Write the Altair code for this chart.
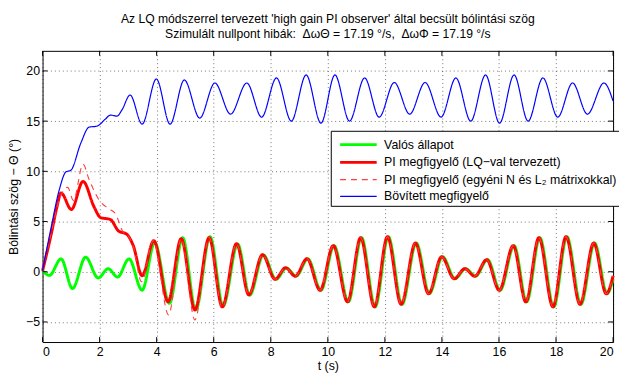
import altair as alt
import pandas as pd

# ---- data (extrema and shape points) ----
t_green = [0.0, 0.24, 0.65, 1.05, 1.51, 1.95, 2.3, 2.63, 3.03, 3.49, 3.93, 4.45, 4.91, 5.37, 5.87,
           6.33, 6.84, 7.26, 7.74, 8.18, 8.55, 8.89, 9.3, 9.76, 10.22, 10.72, 11.18, 11.66, 12.12,
           12.6, 13.1, 13.56, 14.02, 14.46, 14.83, 15.18, 15.6, 16.04, 16.53, 16.97, 17.43, 17.92,
           18.38, 18.87, 19.35, 19.79, 20.0]
v_green = [0.1, -0.36, 1.28, -1.67, 1.45, -0.62, 0.3, -0.53, 1.28, -1.84, 2.9, -3.15, 3.4, -3.8, 3.5,
           -3.4, 2.76, -2.33, 1.67, -0.75, 0.36, -0.43, 1.28, -1.84, 2.6, -3.0, 3.4, -3.5, 3.5,
           -3.25, 2.86, -2.17, 1.5, -0.69, 0.3, -0.43, 1.21, -1.84, 2.6, -3.0, 3.4, -3.5,
           3.5, -3.25, 2.86, -2.17, -0.7]

t_red = [0.0, 0.3, 0.5, 0.65, 1.01, 1.42, 1.8, 2.03, 2.38, 2.66, 2.95, 3.18, 3.49, 3.9, 4.4, 4.86,
         5.34, 5.84, 6.3, 6.8, 7.23, 7.71, 8.15, 8.52, 8.86, 9.27, 9.73, 10.19, 10.69, 11.15, 11.63,
         12.09, 12.57, 13.07, 13.53, 13.99, 14.43, 14.8, 15.15, 15.57, 16.01, 16.5, 16.94, 17.4,
         17.89, 18.35, 18.84, 19.32, 19.76, 20.0]
v_red = [0.1, 3.7, 6.4, 7.85, 6.2, 9.0, 6.5, 5.4, 5.2, 4.07, 3.74, 2.6, -0.4, 3.1, -3.0, 3.3,
         -3.8, 3.4, -3.5, 2.8, -2.3, 1.7, -0.75, 0.4, -0.45, 1.3, -1.85, 2.6, -3.0, 3.4, -3.5,
         3.5, -3.25, 2.86, -2.2, 1.5, -0.7, 0.3, -0.45, 1.2, -1.85, 2.6, -3.0, 3.4,
         -3.5, 3.5, -3.25, 2.86, -2.2, -0.4]

t_dash = [0.0, 0.3, 0.6, 0.88, 1.08, 1.42, 1.63, 1.97, 2.3, 2.55, 2.84, 2.97, 3.18, 3.47, 3.88,
          4.42, 4.86, 5.34, 5.84, 6.3, 6.8, 7.23, 7.71, 8.15, 8.52, 8.86, 9.27, 9.73, 10.19, 10.69,
          11.15, 11.63, 12.09, 12.57, 13.07, 13.53, 13.99, 14.43, 14.8, 15.15, 15.57, 16.01, 16.5,
          16.94, 17.4, 17.89, 18.35, 18.84, 19.32, 19.76, 20.0]
v_dash = [0.1, 3.8, 7.3, 8.4, 7.1, 10.7, 9.2, 7.2, 6.3, 5.8, 3.9, 3.7, 2.5, -1.0, 3.1,
          -4.3, 3.3, -4.8, 3.4, -3.6, 2.8, -2.3, 1.7, -0.75, 0.4, -0.45, 1.3, -1.85, 2.6, -3.0,
          3.4, -3.5, 3.5, -3.25, 2.86, -2.2, 1.5, -0.7, 0.3, -0.45, 1.2, -1.85, 2.6,
          -3.0, 3.4, -3.5, 3.5, -3.25, 2.86, -2.2, -0.4]

t_blue = [0.0, 0.3, 0.59, 0.82, 0.99, 1.34, 1.63, 1.91, 2.2, 2.38, 2.61, 2.78, 3.07, 3.49, 3.99,
          4.47, 4.97, 5.51, 6.04, 6.59, 7.16, 7.68, 8.2, 8.72, 9.24, 9.76, 10.25, 10.76, 11.29,
          11.8, 12.33, 12.87, 13.41, 13.97, 14.49, 15.01, 15.53, 16.02, 16.53, 17.02, 17.54,
          18.06, 18.58, 19.1, 19.68, 20.0]
v_blue = [0.1, 4.4, 8.2, 9.95, 10.1, 12.8, 14.4, 14.5, 15.2, 15.6, 15.5, 16.1, 17.6, 14.7, 19.2,
          14.7, 19.1, 15.3, 18.8, 15.7, 18.8, 15.4, 19.3, 15.0, 19.6, 14.8, 19.6, 15.0, 19.3,
          15.4, 18.85, 15.7, 18.85, 15.4, 19.3, 15.0, 19.6, 14.8, 19.6, 15.0, 19.3,
          15.4, 18.8, 15.7, 18.8, 17.0]

names = ["Valós állapot",
         "PI megfigyelő (LQ−val tervezett)",
         "PI megfigyelő (egyéni N és L₂ mátrixokkal)",
         "Bövített megfigyelő"]
colors = ["#00ff00", "#ff0000", "#ff3c3c", "#0000ff"]
widths = [3, 3, 1.1, 1.2]
dashes = [[1, 0], [1, 0], [6, 5], [1, 0]]

x_ticks = [0, 2, 4, 6, 8, 10, 12, 14, 16, 18, 20]
y_ticks = [-5, 0, 5, 10, 15, 20]

title_lines = ["Az LQ módszerrel tervezett 'high gain PI observer' által becsült bólintási szög",
               "Szimulált nullpont hibák:\u00a0\u00a0ΔωΘ = 17.19 °/s,\u00a0\u00a0ΔωΦ = 17.19 °/s"]

# ---- build table ----
rows = []
for name, ts, vs in zip(names, [t_green, t_red, t_dash, t_blue], [v_green, v_red, v_dash, v_blue]):
    for t, v in zip(ts, vs):
        rows.append({"t": t, "v": v, "series": name})
df = pd.DataFrame(rows)

W, H = 578, 295
FONT = "Liberation Sans"
FS = 12.5

xscale = alt.Scale(domain=[0, 20], nice=False, zero=False)
yscale = alt.Scale(domain=[-7, 22], nice=False, zero=False)

legend = alt.Legend(title=None, orient="none", legendX=292, legendY=81,
                    symbolType="M-1.95,0H1.95", symbolSize=361, symbolOffset=14,
                    labelFont=FONT, labelFontSize=FS, labelColor="black", labelLimit=400,
                    labelOffset=15, fillColor="white", strokeColor="black",
                    padding=3, rowPadding=0)

def layer(name, w):
    return (alt.Chart(df)
            .transform_filter(alt.datum.series == name)
            .mark_line(interpolate="monotone", strokeWidth=w)
            .encode(
                x=alt.X("t:Q", scale=xscale, title="t (s)",
                        axis=alt.Axis(values=x_ticks, format="d")),
                y=alt.Y("v:Q", scale=yscale, title="Bólintási szög − Θ (°)",
                        axis=alt.Axis(values=y_ticks, format="d")),
                color=alt.Color("series:N", scale=alt.Scale(domain=names, range=colors), legend=legend),
                strokeWidth=alt.StrokeWidth("series:N",
                                            scale=alt.Scale(type="ordinal", domain=names, range=widths)),
                strokeDash=alt.StrokeDash("series:N", scale=alt.Scale(domain=names, range=dashes)),
            ))

xt = pd.DataFrame({"tick": x_ticks})
yt = pd.DataFrame({"tick": y_ticks})

def xrule(y0, y1):
    return alt.Chart(xt).mark_rule(color="black", strokeWidth=1).encode(
        x=alt.X("tick:Q", scale=xscale, title="t (s)"), y=alt.value(y0), y2=alt.value(y1))

def yrule(x0, x1):
    return alt.Chart(yt).mark_rule(color="black", strokeWidth=1).encode(
        y=alt.Y("tick:Q", scale=yscale, title="Bólintási szög − Θ (°)"), x=alt.value(x0), x2=alt.value(x1))

chart = alt.layer(
    layer(names[0], widths[0]), layer(names[1], widths[1]),
    layer(names[2], widths[2]), layer(names[3], widths[3]),
    xrule(H, H - 5), xrule(0, 5), yrule(0, 5), yrule(W, W - 5),
).properties(
    width=W, height=H,
    title=alt.TitleParams(text=title_lines, font=FONT, fontSize=12.3, fontWeight="normal",
                          color="black", anchor="middle", offset=10, lineHeight=15.5),
    autosize=alt.AutoSizeParams(type="none"),
    padding={"left": 35, "top": 41, "right": 6, "bottom": 32},
).configure(font=FONT).configure_view(
    stroke="black", strokeWidth=1
).configure_axis(
    labelFont=FONT, labelFontSize=FS, labelColor="black",
    titleFont=FONT, titleFontSize=FS, titleFontWeight="normal", titleColor="black",
    ticks=False, domain=False, grid=True, gridColor="#000000", gridDash=[1, 3], gridOpacity=0.55,
).configure_axisX(labelPadding=4, titlePadding=1).configure_axisY(labelPadding=3, titlePadding=5)

chart.save("out.html", embed_options={"renderer": "svg", "actions": False})
